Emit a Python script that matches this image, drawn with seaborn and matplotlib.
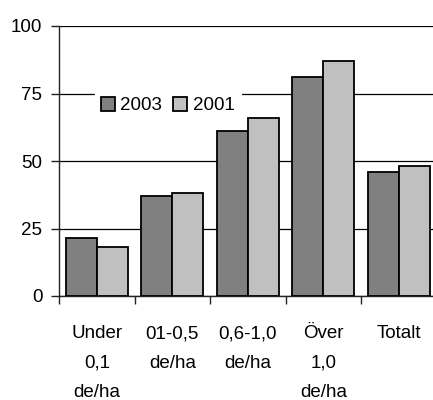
import matplotlib
matplotlib.use("Agg")
import matplotlib.pyplot as plt
from matplotlib.ticker import FixedLocator
import seaborn as sns
import pandas as pd

categories = ["Under\n0,1\nde/ha", "01-0,5\nde/ha", "0,6-1,0\nde/ha", "Över\n1,0\nde/ha", "Totalt"]
years = ["2003", "2001"]
values_2003 = [21.5, 37, 61, 81, 46]
values_2001 = [18, 38, 66, 87, 48]
y_ticks = [0, 25, 50, 75, 100]

df = pd.DataFrame({
    "kategori": categories * 2,
    "år": [years[0]] * len(categories) + [years[1]] * len(categories),
    "andel": values_2003 + values_2001,
})

sns.set_theme(style="white")
plt.rcParams["font.family"] = ["Liberation Sans", "DejaVu Sans"]
plt.rcParams["text.color"] = "black"
plt.rcParams["xtick.color"] = "black"
plt.rcParams["ytick.color"] = "black"

fig = plt.figure(figsize=(4.33, 4.00), dpi=100)
ax = fig.add_axes([0.1363, 0.26, 0.872, 0.675])

sns.barplot(data=df, x="kategori", y="andel", hue="år", hue_order=years,
            palette=["#808080", "#c0c0c0"], width=0.82, ax=ax,
            edgecolor="black", linewidth=1.3, saturation=1, errorbar=None,
            zorder=3)

ax.set_xlim(-0.5, len(categories) - 0.5)
ax.set_ylim(0, 100)
ax.set_yticks(y_ticks)
ax.set_yticklabels([str(t) for t in y_ticks], fontsize=13.5)
ax.yaxis.grid(True, color="black", linewidth=0.9)
ax.set_axisbelow(True)
ax.set_xlabel("")
ax.set_ylabel("")

for side in ["top", "right"]:
    ax.spines[side].set_visible(False)
for side in ["left", "bottom"]:
    ax.spines[side].set_color("#222222")
    ax.spines[side].set_linewidth(1.0)

ax.tick_params(axis="y", which="major", length=6, width=1, color="#222222",
               pad=6, left=True)
ax.set_xticks(range(len(categories)))
ax.set_xticklabels(categories, fontsize=13.5, linespacing=1.95, va="top")
ax.tick_params(axis="x", which="major", length=0, pad=21)
ax.xaxis.set_minor_locator(FixedLocator([i - 0.5 for i in range(len(categories) + 1)]))
ax.tick_params(axis="x", which="minor", length=6, width=1, color="#222222",
               bottom=True)

leg = ax.legend(loc="center left", bbox_to_anchor=(0.095, 0.705), ncol=2,
                frameon=True, fontsize=13.5, handlelength=0.75, handleheight=0.75,
                handletextpad=0.3, columnspacing=0.6, borderpad=0.3,
                borderaxespad=0)
leg.get_frame().set_facecolor("white")
leg.get_frame().set_edgecolor("white")
leg.get_frame().set_alpha(1)
leg.set_zorder(5)

fig.savefig("out.png", dpi=100)
